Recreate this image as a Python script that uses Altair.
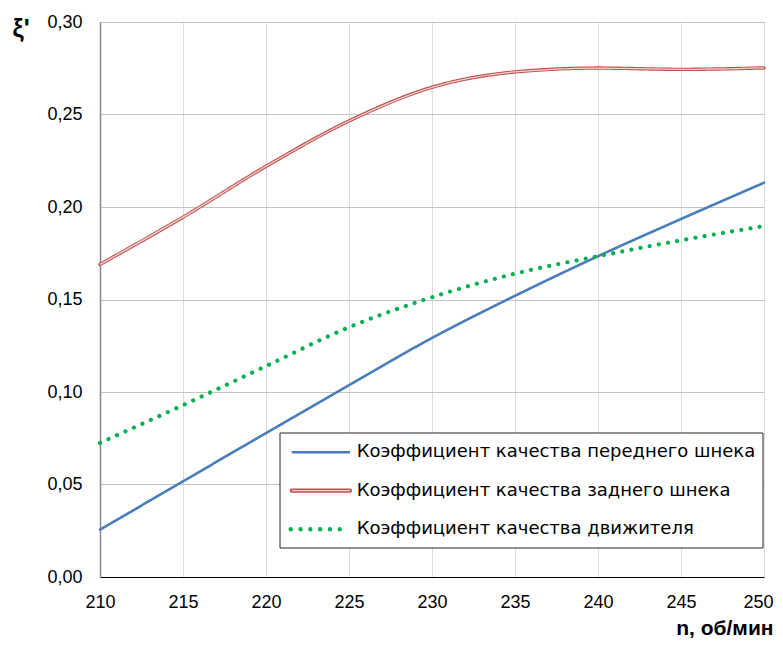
import altair as alt
import pandas as pd

n_values = [210, 215, 220, 225, 230, 235, 240, 245, 250]
front = [0.0256, 0.0517, 0.0778, 0.1037, 0.1292, 0.1520, 0.1734, 0.1935, 0.2131]
rear = [0.1690, 0.1945, 0.2220, 0.2465, 0.2647, 0.2730, 0.2751, 0.2744, 0.2752]
mover = [0.0725, 0.0929, 0.1140, 0.1350, 0.1512, 0.1640, 0.1734, 0.1820, 0.1897]

series_names = [
    "Коэффициент качества переднего шнека",
    "Коэффициент качества заднего шнека",
    "Коэффициент качества движителя",
]
x_ticks = [210, 215, 220, 225, 230, 235, 240, 245, 250]
y_ticks = [0.0, 0.05, 0.10, 0.15, 0.20, 0.25, 0.30]

rows = []
for name, vals in zip(series_names, [front, rear, mover]):
    for n, v in zip(n_values, vals):
        rows.append({"n": n, "xi": v, "series": name})
df = pd.DataFrame(rows)

F_TICK = "Liberation Sans"
F_LEG = "DejaVu Sans"
F_TTL = "Liberation Sans"
BLUE, RED, GREEN, PINK = "#4a7ebb", "#c0504d", "#00b050", "#f4d3d2"
colors = [BLUE, RED, GREEN]

x_enc = alt.X(
    "n:Q",
    scale=alt.Scale(domain=[210, 250], nice=False, zero=False),
    axis=alt.Axis(
        values=x_ticks,
        title="n, об/мин",
        titleFont=F_TTL,
        titleFontSize=21,
        titleFontWeight="bold",
        titleColor="black",
        titleAngle=0,
        titleAlign="right",
        titleBaseline="alphabetic",
        titleX=673,
        titleY=57,
        labelFont=F_TICK,
        labelFontSize=18,
        labelColor="black",
        labelPadding=16,
        labelFlush=False,
        labelAlign={"condition": {"test": "datum.value == 250", "value": "right"}, "value": "center"},
        labelOffset={"condition": {"test": "datum.value == 250", "value": 9}, "value": 0},
        ticks=False,
        domainColor="#000000",
        domainWidth=1,
        gridColor="#dcdcdc",
        gridWidth=1,
    ),
)
y_enc = alt.Y(
    "xi:Q",
    scale=alt.Scale(domain=[0, 0.30], nice=False),
    axis=alt.Axis(
        values=y_ticks,
        labelExpr="replace(format(datum.value, '.2f'), '.', ',')",
        title="ξ'",
        titleFont=F_TTL,
        titleFontSize=25,
        titleFontWeight="bold",
        titleColor="black",
        titleAngle=0,
        titleAlign="left",
        titleBaseline="alphabetic",
        titleX=-88,
        titleY=14,
        labelFont=F_TICK,
        labelFontSize=18,
        labelColor="black",
        labelPadding=18,
        ticks=False,
        domainColor="#868686",
        domainWidth=1.5,
        gridColor="#c4c4c4",
        gridWidth=1,
    ),
)

lines = alt.Chart(df).mark_line(interpolate="monotone", strokeCap="round").encode(
    x=x_enc,
    y=y_enc,
    color=alt.Color(
        "series:N",
        scale=alt.Scale(domain=series_names, range=colors),
        legend=None,
    ),
    strokeDash=alt.StrokeDash(
        "series:N",
        scale=alt.Scale(domain=series_names, range=[[1, 0], [1, 0], [0.01, 9.3]]),
        legend=None,
    ),
    strokeWidth=alt.StrokeWidth(
        "series:N",
        scale=alt.Scale(domain=series_names, range=[2.6, 4.2, 4.4]),
        legend=None,
    ),
    order=alt.Order("n:Q"),
)

inner = alt.Chart(df).transform_filter(
    alt.datum.series == series_names[1]
).mark_line(interpolate="monotone", color=PINK, strokeWidth=1.3).encode(
    x="n:Q", y="xi:Q", order=alt.Order("n:Q")
)

LX0, LX1, LY0, LY1 = 180, 663, 411, 526
SYM0, SYM1, TXT = 191.7, 250, 256.7
ROWS = [430.3, 468.7, 507.3]

one = pd.DataFrame({"k": [0]})
legend_layers = [
    alt.Chart(one).mark_rect(fill="white", stroke="#262626", strokeWidth=1).encode(
        x=alt.value(LX0), x2=alt.value(LX1), y=alt.value(LY0), y2=alt.value(LY1)
    )
]
legend_layers.append(
    alt.Chart(one).mark_rule(color=BLUE, strokeWidth=2.6).encode(
        x=alt.value(SYM0), x2=alt.value(SYM1), y=alt.value(ROWS[0])
    )
)
legend_layers.append(
    alt.Chart(one).mark_rule(color=RED, strokeWidth=4.2, strokeCap="round").encode(
        x=alt.value(SYM0), x2=alt.value(SYM1), y=alt.value(ROWS[1])
    )
)
legend_layers.append(
    alt.Chart(one).mark_rule(color=PINK, strokeWidth=1.3).encode(
        x=alt.value(SYM0), x2=alt.value(SYM1), y=alt.value(ROWS[1])
    )
)
legend_layers.append(
    alt.Chart(one).mark_rule(
        color=GREEN, strokeWidth=4.4, strokeCap="round", strokeDash=[0.01, 9.8]
    ).encode(x=alt.value(SYM0 - 1), x2=alt.value(SYM1 - 6), y=alt.value(ROWS[2]))
)
for name, yy in zip(series_names, ROWS):
    legend_layers.append(
        alt.Chart(pd.DataFrame({"label": [name]})).mark_text(
            align="left", baseline="middle", font=F_LEG, fontSize=18, color="black"
        ).encode(x=alt.value(TXT), y=alt.value(yy), text="label:N")
    )

chart = alt.layer(lines, inner, *legend_layers).properties(
    width=664,
    height=555,
    autosize=alt.AutoSizeParams(type="none"),
    padding={"left": 92, "top": 14, "right": 11, "bottom": 61},
    background="white",
).configure_view(stroke="#7f7f7f", strokeWidth=1)

chart.save("out.html", embed_options={"renderer": "svg", "actions": False})
